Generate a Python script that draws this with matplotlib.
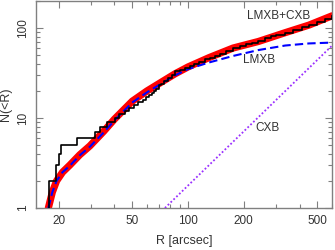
import numpy as np
import matplotlib.pyplot as plt
from matplotlib.ticker import FixedLocator, FixedFormatter, LogLocator, NullFormatter

plt.rcParams['font.family'] = ['Liberation Sans', 'DejaVu Sans']

# observed cumulative source counts N(<R) (step curve)
r_hist = [17.7, 17.7, 19.3, 20.0, 20.7, 25.0, 31.5, 33.5, 36.4, 40.5, 42.5, 45.5, 48, 51, 54,
          57, 59.5, 61.5, 63.5, 65.5, 67.5, 69.5, 71, 74, 78, 82, 85, 90, 96, 102, 108, 115, 123,
          132, 140, 149, 160, 175, 190, 205, 222, 240, 260, 280, 300, 335, 370, 410,
          450, 500, 550, 600]
n_hist = [1, 2, 3, 4, 5, 6, 7, 8, 9, 10, 11, 12, 13, 14, 15,
          16, 17, 18, 19, 20, 21, 23, 24, 26, 28, 30, 33, 34, 36, 38, 40, 42, 45,
          47, 49, 52, 55, 60, 63, 66, 69, 72, 77, 81, 84, 89, 95, 102,
          108, 117, 126, 136]

# model LMXB+CXB
r_tot = [17.6, 18.5, 19.5, 21, 23, 26, 29.5, 35, 40, 50, 60, 75, 85, 100, 130, 175, 240, 335, 450, 600]
n_tot = [1.0, 1.5, 2.0, 2.5, 3.0, 3.9, 4.9, 7.1, 9.7, 15.4, 20.0, 26.5, 31, 37, 47, 60, 71, 89, 108, 137]

# model LMXB
r_lmxb = [17.6, 18.5, 19.5, 21, 23, 26, 29.5, 35, 40, 50, 60, 75, 85, 100, 130, 175, 240, 335, 450, 600]
n_lmxb = [1.0, 1.5, 2.0, 2.5, 2.95, 3.85, 4.8, 6.9, 9.4, 14.9, 19.3, 25.5, 29.8, 35, 41.5, 49, 57, 64, 67.5, 69]

# model CXB
r_cxb = [75, 600]
n_cxb = [1.0, 64.0]

x_ticks = [20, 50, 100, 200, 500]
y_ticks = [1, 10, 100]

fig = plt.figure(figsize=(3.35, 2.5), dpi=100)
ax = fig.add_axes([0.1075, 0.168, 0.884, 0.828])

ax.plot(r_tot, n_tot, color='#ff0000', lw=5.2, solid_capstyle='round', zorder=2)
ax.plot(r_lmxb, n_lmxb, color='#0000ff', lw=1.5, ls=(0, (4, 2)), zorder=3)
ax.plot(r_hist, n_hist, color='black', lw=1.2, drawstyle='steps-post', zorder=4)
ax.plot(r_cxb, n_cxb, color='#9b30ff', lw=1.3, ls=(0, (1, 1.2)), zorder=5)

ax.set_xscale('log')
ax.set_yscale('log')
ax.set_xlim(15.1, 600)
ax.set_ylim(1, 200)

ax.xaxis.set_major_locator(FixedLocator(x_ticks))
ax.xaxis.set_major_formatter(FixedFormatter([str(v) for v in x_ticks]))
ax.xaxis.set_minor_locator(LogLocator(base=10, subs=range(1, 10)))
ax.xaxis.set_minor_formatter(NullFormatter())
ax.yaxis.set_major_locator(FixedLocator(y_ticks))
ax.yaxis.set_major_formatter(FixedFormatter([str(v) for v in y_ticks]))
ax.yaxis.set_minor_locator(LogLocator(base=10, subs=range(2, 10)))
ax.yaxis.set_minor_formatter(NullFormatter())

ax.tick_params(which='both', direction='in', top=True, right=True, color='#808080',
               labelcolor='#333333', labelsize=8.5, width=0.8)
ax.tick_params(which='major', length=5, pad=5)
ax.tick_params(which='minor', length=3)
for lab in ax.get_yticklabels():
    lab.set_rotation(90)
    lab.set_va('center')
for sp in ax.spines.values():
    sp.set_color('#808080')
    sp.set_linewidth(1.0)

ax.set_xlabel('R [arcsec]', fontsize=9, color='#333333', labelpad=6)
ax.set_ylabel('N(<R)', fontsize=9, color='#333333', labelpad=4)

# curve labels
ax.annotate('LMXB+CXB', xy=(279 / 335, 1 - 16 / 250), xycoords='figure fraction',
            ha='center', va='center', fontsize=8.5, color='#333333')
ax.annotate('LMXB', xy=(259 / 335, 1 - 60 / 250), xycoords='figure fraction',
            ha='center', va='center', fontsize=8.5, color='#333333')
ax.annotate('CXB', xy=(267 / 335, 1 - 128 / 250), xycoords='figure fraction',
            ha='center', va='center', fontsize=8.5, color='#333333')

fig.savefig('out.png', dpi=100)
